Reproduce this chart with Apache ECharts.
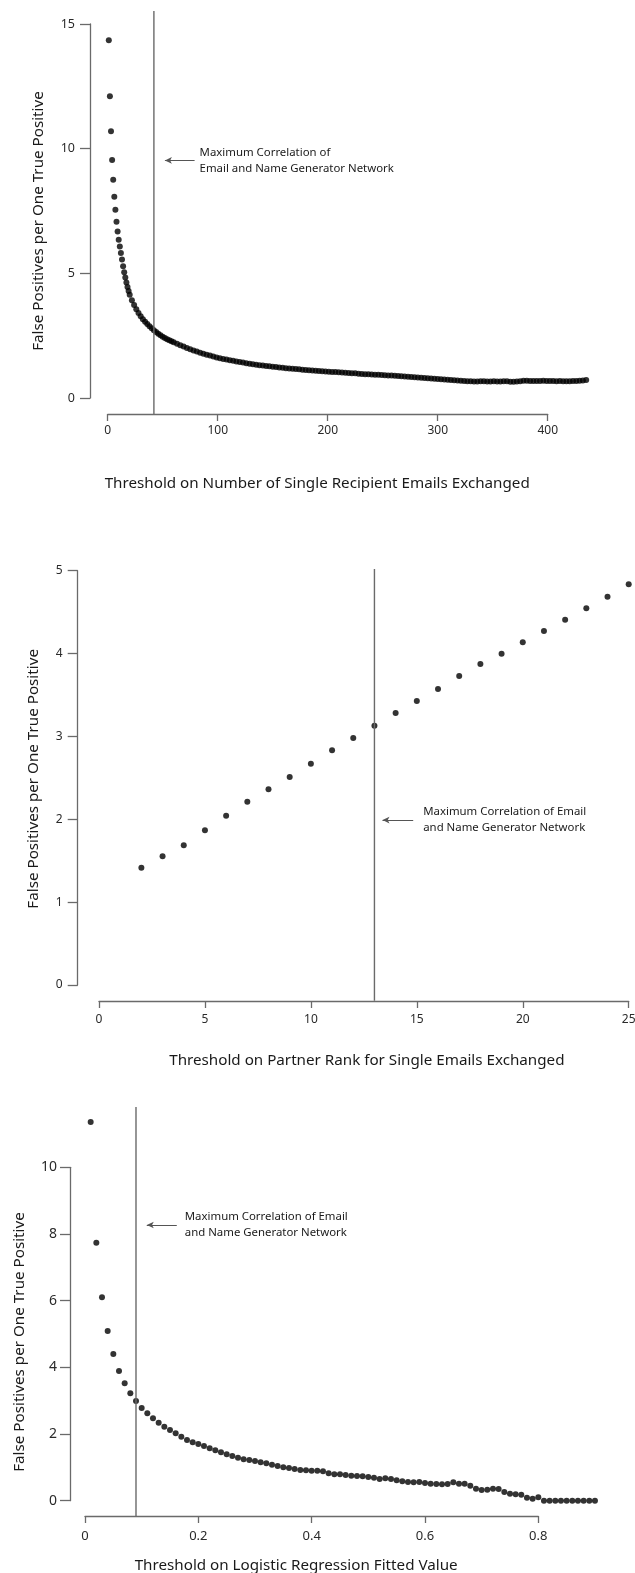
<!DOCTYPE html>
<html><head><meta charset="utf-8">
<script src="https://cdn.jsdelivr.net/npm/echarts@6/dist/echarts.min.js"></script>
<style>html,body{margin:0;padding:0;background:#fff}#c{width:635px;height:1573px}</style>
</head><body><div id="c"></div>
<script>
// ---------- texts ----------
const yTitle = 'False Positives per One True Positive';
const xTitle1 = 'Threshold on Number of Single Recipient Emails Exchanged';
const xTitle2 = 'Threshold on Partner Rank for Single Emails Exchanged';
const xTitle3 = 'Threshold on Logistic Regression Fitted Value';
const note1 = 'Maximum Correlation of\nEmail and Name Generator Network';
const note2 = 'Maximum Correlation of Email\nand Name Generator Network';
const note3 = 'Maximum Correlation of Email\nand Name Generator Network';

// ---------- panel 1 data: [threshold, false positives per true positive] ----------
const emailCountPoints = [
 [1,14.35],[2,12.10],[3,10.70],[4,9.55],[5,8.75],[6,8.07],[7,7.55],[8,7.07],[9,6.68],[10,6.35],
 [11,6.08],[12,5.82],[13,5.55],[14,5.28],[15,5.04],[16,4.83],[17,4.63],[18,4.45],[19,4.29],[20,4.14],
 [22,3.92],[24,3.73],[26,3.56],[28,3.41],[30,3.28],[32,3.16],[34,3.06],[36,2.97],[38,2.88],[40,2.80],
 [42,2.72],[44,2.65],[46,2.58],[48,2.52],[50,2.46],[52,2.41],[54,2.36],[56,2.32],[58,2.28],[60,2.24],
 [63,2.18],[66,2.12],[69,2.07],[72,2.01],[75,1.96],[78,1.91],[81,1.86],[84,1.81],[87,1.77],[90,1.73],
 [93,1.70],[96,1.66],[99,1.62],[102,1.59],[105,1.56],[108,1.54],[111,1.51],[114,1.49],[117,1.46],[120,1.44],
 [123,1.42],[126,1.39],[129,1.37],[132,1.35],[135,1.33],[138,1.31],[141,1.30],[144,1.28],[147,1.27],[150,1.25],
 [153,1.24],[156,1.22],[159,1.21],[162,1.19],[165,1.18],[168,1.17],[171,1.16],[174,1.15],[177,1.13],[180,1.12],
 [183,1.11],[186,1.10],[189,1.09],[192,1.08],[195,1.07],[198,1.06],[201,1.05],[204,1.04],[207,1.04],[210,1.03],
 [213,1.02],[216,1.01],[219,1.00],[222,0.99],[225,0.99],[228,0.97],[231,0.96],[234,0.95],[237,0.95],[240,0.94],
 [243,0.93],[246,0.93],[249,0.92],[252,0.91],[255,0.90],[258,0.90],[261,0.89],[264,0.88],[267,0.87],[270,0.86],
 [273,0.85],[276,0.84],[279,0.83],[282,0.82],[285,0.81],[288,0.80],[291,0.79],[294,0.78],[297,0.77],[300,0.76],
 [303,0.75],[306,0.74],[309,0.73],[312,0.72],[315,0.71],[318,0.70],[321,0.69],[324,0.68],[327,0.67],[330,0.67],
 [333,0.66],[336,0.66],[339,0.67],[342,0.67],[345,0.66],[348,0.66],[351,0.67],[354,0.66],[357,0.66],[360,0.67],
 [363,0.67],[366,0.65],[369,0.65],[372,0.66],[375,0.67],[378,0.69],[381,0.69],[384,0.68],[387,0.68],[390,0.68],
 [393,0.68],[396,0.69],[399,0.68],[402,0.68],[405,0.68],[408,0.67],[411,0.68],[414,0.67],[417,0.67],[420,0.67],
 [423,0.68],[426,0.68],[429,0.69],[432,0.70],[435,0.72]
];
const p1Ticks = {min:0, max:400, interval:100, ymin:0, ymax:15, yinterval:5};
const p1Marker = 42;          // vertical reference line (x)
const p1MarkerSpan = [-0.64, 15.52];
const p1Arrow = {x1:52, x2:79, y:9.53};

// ---------- panel 2 data ----------
const rankX = [2,3,4,5,6,7,8,9,10,11,12,13,14,15,16,17,18,19,20,21,22,23,24,25];
const rankY = [1.415,1.553,1.686,1.867,2.043,2.212,2.362,2.510,2.671,2.832,2.981,3.130,3.283,3.427,3.572,3.729,3.874,3.998,4.136,4.272,4.409,4.546,4.686,4.836];
const p2Ticks = {min:0, max:25, interval:5, ymin:0, ymax:5, yinterval:1};
const p2Marker = 13;
const p2MarkerSpan = [-0.19, 5.02];
const p2Arrow = {x1:13.38, x2:14.83, y:1.99};

// ---------- panel 3 data ----------
const fitX = [0.01,0.02,0.03,0.04,0.05,0.06,0.07,0.08,0.09,0.10,
 0.11,0.12,0.13,0.14,0.15,0.16,0.17,0.18,0.19,0.20,
 0.21,0.22,0.23,0.24,0.25,0.26,0.27,0.28,0.29,0.30,
 0.31,0.32,0.33,0.34,0.35,0.36,0.37,0.38,0.39,0.40,
 0.41,0.42,0.43,0.44,0.45,0.46,0.47,0.48,0.49,0.50,
 0.51,0.52,0.53,0.54,0.55,0.56,0.57,0.58,0.59,0.60,
 0.61,0.62,0.63,0.64,0.65,0.66,0.67,0.68,0.69,0.70,
 0.71,0.72,0.73,0.74,0.75,0.76,0.77,0.78,0.79,0.80,
 0.81,0.82,0.83,0.84,0.85,0.86,0.87,0.88,0.89,0.90];
const fitY = [11.36,7.74,6.10,5.09,4.40,3.89,3.52,3.22,2.99,2.78,
 2.62,2.47,2.34,2.22,2.12,2.02,1.92,1.82,1.75,1.70,
 1.64,1.57,1.51,1.45,1.39,1.34,1.29,1.24,1.22,1.19,
 1.15,1.12,1.08,1.04,1.00,0.98,0.95,0.92,0.91,0.90,
 0.90,0.88,0.82,0.79,0.79,0.77,0.75,0.74,0.73,0.71,
 0.69,0.65,0.67,0.65,0.61,0.58,0.56,0.55,0.56,0.53,
 0.51,0.50,0.49,0.50,0.55,0.51,0.51,0.45,0.36,0.32,
 0.33,0.36,0.35,0.26,0.21,0.19,0.18,0.09,0.06,0.10,
 0.0,0.0,0.0,0.0,0.0,0.0,0.0,0.0,0.0,0.0];
const p3Ticks = {min:0, max:0.8, interval:0.2, ymin:0, ymax:10, yinterval:2};
const p3Marker = 0.09;
const p3MarkerSpan = [-0.46, 11.81];
const p3Arrow = {x1:0.109, x2:0.162, y:8.27};

// ---------- styling ----------
const FONT = 'Noto Sans';
const AXIS_COLOR = '#6a6a6a';
const LABEL_COLOR = '#2a2a2a';
const TITLE_COLOR = '#1a1a1a';
const DOT = '#000';

const grids = [
  {left:107.7, top:24, width:440, height:374},
  {left:99, top:570.7, width:529.7, height:414.3},
  {left:85, top:1167.3, width:453.3, height:333.4}
];
const axisStyle = [
  {xOff:16, yOff:17.7, xLabelMargin:11, yLabelMargin:15, xLabelSize:12, yLabelSize:12.5, xNameGap:62, yNameGap:44, xNamePad:[0,21,0,0], yNamePad:[0,20,0,0], noteGap:5},
  {xOff:16, yOff:21.3, xLabelMargin:13, yLabelMargin:15, xLabelSize:12, yLabelSize:12, xNameGap:52, yNameGap:37, xNamePad:[0,0,0,6], yNamePad:[0,2,0,0], noteGap:10},
  {xOff:15.3, yOff:15, xLabelMargin:14, yLabelMargin:13, xLabelSize:13, yLabelSize:14, xNameGap:42, yNameGap:43, xNamePad:[0,31,0,0], yNamePad:[0,16,0,0], noteGap:8}
];
const ticks = [p1Ticks, p2Ticks, p3Ticks];
const xNames = [xTitle1, xTitle2, xTitle3];

function fmt(v){ return String(Math.round(v*100)/100); }

const xAxes = ticks.map((t,i)=>({
  type:'value', gridIndex:i, min:t.min, max:t.max, interval:t.interval,
  offset:axisStyle[i].xOff,
  axisLine:{show:true, onZero:false, lineStyle:{color:AXIS_COLOR, width:1.3}},
  axisTick:{show:true, length:7, lineStyle:{color:AXIS_COLOR, width:1.3}},
  axisLabel:{show:true, margin:axisStyle[i].xLabelMargin, fontSize:axisStyle[i].xLabelSize, color:LABEL_COLOR, fontFamily:FONT, formatter:fmt, showMinLabel:true, showMaxLabel:true, hideOverlap:false},
  splitLine:{show:false},
  name:xNames[i], nameLocation:'middle', nameGap:axisStyle[i].xNameGap,
  nameTextStyle:{fontSize:15.2, color:TITLE_COLOR, fontFamily:FONT, padding:axisStyle[i].xNamePad}
}));
const yAxes = ticks.map((t,i)=>({
  type:'value', gridIndex:i, min:t.ymin, max:t.ymax, interval:t.yinterval,
  offset:axisStyle[i].yOff,
  axisLine:{show:true, onZero:false, lineStyle:{color:AXIS_COLOR, width:1.3}},
  axisTick:{show:true, length:10, lineStyle:{color:AXIS_COLOR, width:1.3}},
  axisLabel:{show:true, margin:axisStyle[i].yLabelMargin, fontSize:axisStyle[i].yLabelSize, color:LABEL_COLOR, fontFamily:FONT, formatter:fmt, showMinLabel:true, showMaxLabel:true, hideOverlap:false},
  splitLine:{show:false},
  name:yTitle, nameLocation:'middle', nameGap:axisStyle[i].yNameGap,
  nameTextStyle:{fontSize:15.2, color:TITLE_COLOR, fontFamily:FONT, padding:axisStyle[i].yNamePad}
}));

function dots(i, data){
  return {type:'scatter', xAxisIndex:i, yAxisIndex:i, data:data, symbol:'circle', symbolSize:6,
    itemStyle:{color:DOT}, clip:false, silent:true, animation:false};
}
function refLine(i, x, span, arrow, text){
  return {type:'line', xAxisIndex:i, yAxisIndex:i, data:[[x,span[0]],[x,span[1]]],
    showSymbol:false, symbol:'none', clip:false, silent:true, animation:false,
    lineStyle:{color:'#6a6a6a', width:1.4},
    markLine:{silent:true, animation:false, symbol:['arrow','none'], symbolSize:[5,7],
      lineStyle:{color:'#555', width:1, type:'solid'},
      label:{show:true, position:'end', distance:axisStyle[i].noteGap, formatter:text, color:TITLE_COLOR,
        fontSize:11.4, lineHeight:16, fontFamily:FONT, align:'left'},
      data:[[{coord:[arrow.x1, arrow.y]},{coord:[arrow.x2, arrow.y]}]]
    }
  };
}

const chart = echarts.init(document.getElementById('c'), null, {renderer:'canvas'});
chart.setOption({
  animation:false,
  backgroundColor:'#fff',
  grid: grids.map(g=>Object.assign({containLabel:false, outerBoundsMode:'none'}, g)),
  xAxis:xAxes, yAxis:yAxes,
  series:[
    dots(0, emailCountPoints),
    refLine(0, p1Marker, p1MarkerSpan, p1Arrow, note1),
    dots(1, rankX.map((x,k)=>[x, rankY[k]])),
    refLine(1, p2Marker, p2MarkerSpan, p2Arrow, note2),
    dots(2, fitX.map((x,k)=>[x, fitY[k]])),
    refLine(2, p3Marker, p3MarkerSpan, p3Arrow, note3)
  ]
});
</script></body></html>
